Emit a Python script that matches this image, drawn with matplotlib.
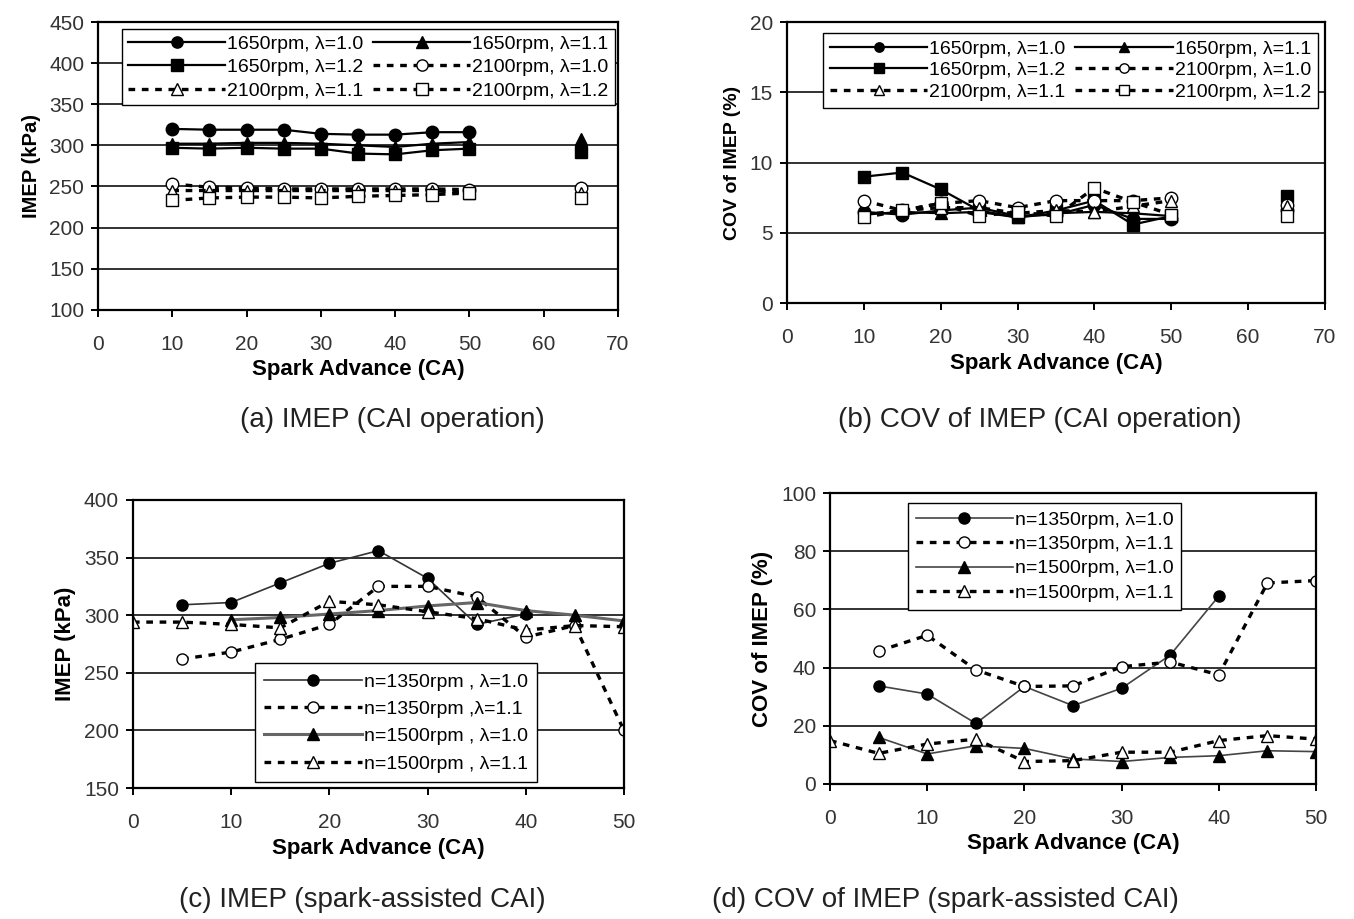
import matplotlib.pyplot as plt
import numpy as np

plt.rcParams['font.family'] = ['Liberation Sans', 'DejaVu Sans']

# ---- data: CAI operation (a), (b) ----
sa_cai = [10, 15, 20, 25, 30, 35, 40, 45, 50, 55, 60, 65]
nan = np.nan

imep_1650_10 = [320, 319, 319, 319, 314, 313, 313, 316, 316, nan, nan, nan]
imep_1650_11 = [302, 302, 303, 303, 302, 300, 298, 302, 304, nan, nan, 308]
imep_1650_12 = [297, 296, 297, 296, 296, 290, 289, 294, 296, nan, nan, 292]
imep_2100_10 = [253, 249, 248, 247, 247, 247, 247, 247, 246, nan, nan, 248]
imep_2100_11 = [245, 245, 245, 245, 245, 245, 245, 245, 242, nan, nan, 242]
imep_2100_12 = [233, 236, 237, 237, 236, 238, 239, 240, 242, nan, nan, 236]

cov_1650_10 = [6.5, 6.3, 6.6, 6.8, 6.2, 6.3, 7.0, 6.0, 6.0, nan, nan, 6.6]
cov_1650_11 = [6.3, 6.5, 6.4, 6.5, 6.1, 6.4, 6.5, 6.4, 6.2, nan, nan, 6.8]
cov_1650_12 = [9.0, 9.3, 8.1, 6.6, 6.1, 6.6, 7.3, 5.6, 6.2, nan, nan, 7.6]
cov_2100_10 = [7.3, 6.6, 7.1, 7.3, 6.8, 7.3, 7.3, 7.3, 7.5, nan, nan, 7.0]
cov_2100_11 = [6.3, 6.6, 6.8, 6.8, 6.4, 6.6, 6.5, 6.9, 7.3, nan, nan, 6.9]
cov_2100_12 = [6.1, 6.6, 7.1, 6.2, 6.5, 6.2, 8.2, 7.2, 6.3, nan, nan, 6.2]

# ---- data: spark-assisted CAI (c), (d) ----
sa_sa = [0, 5, 10, 15, 20, 25, 30, 35, 40, 45, 50]

imep_1350_10 = [nan, 309, 311, 328, 345, 356, 332, 292, 301, nan, nan]
imep_1350_11 = [nan, 262, 268, 279, 292, 325, 325, 316, 281, 291, 200]
imep_1500_10 = [nan, nan, 296, 298, 301, 304, 308, 311, 304, 300, 295]
imep_1500_11 = [294, 294, 292, 289, 312, 309, 303, 297, 287, 291, 290]

cov_1350_10 = [nan, 33.7, 30.9, 20.8, 33.5, 26.9, 32.9, 44.3, 64.6, nan, nan]
cov_1350_11 = [nan, 45.7, 51.1, 39.2, 33.5, 33.7, 40.3, 41.9, 37.5, 69.1, 69.9]
cov_1500_10 = [nan, 16.0, 10.3, 13.1, 12.2, 8.6, 7.7, 9.1, 9.7, 11.4, 11.1]
cov_1500_11 = [14.9, 10.5, 13.7, 15.4, 7.7, 8.0, 10.9, 10.9, 14.9, 16.6, 15.4]

labels_cai = ["1650rpm, λ=1.0", "1650rpm, λ=1.1", "1650rpm, λ=1.2",
              "2100rpm, λ=1.0", "2100rpm, λ=1.1", "2100rpm, λ=1.2"]
labels_c = ["n=1350rpm , λ=1.0", "n=1350rpm ,λ=1.1",
            "n=1500rpm , λ=1.0", "n=1500rpm , λ=1.1"]
labels_d = ["n=1350rpm, λ=1.0", "n=1350rpm, λ=1.1",
            "n=1500rpm, λ=1.0", "n=1500rpm, λ=1.1"]

solid = dict(color='black', linestyle='-', linewidth=1.6)
dotted = dict(color='black', linestyle=(0, (2, 2)), linewidth=2.4)
styles_cai = [
    dict(marker='o', mfc='black', **solid),
    dict(marker='^', mfc='black', **solid),
    dict(marker='s', mfc='black', **solid),
    dict(marker='o', mfc='white', **dotted),
    dict(marker='^', mfc='white', **dotted),
    dict(marker='s', mfc='white', **dotted),
]
styles_c = [
    dict(marker='o', mfc='black', color='#333333', linestyle='-', linewidth=1.2),
    dict(marker='o', mfc='white', **dotted),
    dict(marker='^', mfc='black', color='#666666', linestyle='-', linewidth=2.2),
    dict(marker='^', mfc='white', **dotted),
]
styles_d = [
    dict(marker='o', mfc='black', color='#444444', linestyle='-', linewidth=1.2),
    dict(marker='o', mfc='white', **dotted),
    dict(marker='^', mfc='black', color='#444444', linestyle='-', linewidth=1.2),
    dict(marker='^', mfc='white', **dotted),
]

fig = plt.figure(figsize=(13.54, 9.19), dpi=100)
ax_a = fig.add_axes([0.0724, 0.663, 0.384, 0.313])
ax_b = fig.add_axes([0.5812, 0.670, 0.3974, 0.306])
ax_c = fig.add_axes([0.0982, 0.1425, 0.3626, 0.3135])
ax_d = fig.add_axes([0.613, 0.147, 0.359, 0.3165])


def style_axis(ax, ylab, xlim, ylim, xstep, ystep, ylab_size):
    ax.set_xlim(*xlim)
    ax.set_ylim(*ylim)
    ax.set_xticks(np.arange(xlim[0], xlim[1] + 1, xstep))
    ax.set_yticks(np.arange(ylim[0], ylim[1] + 0.01, ystep))
    ax.yaxis.grid(True, color='#222222', linewidth=1.3)
    ax.set_axisbelow(True)
    for s in ax.spines.values():
        s.set_linewidth(1.6)
    ax.tick_params(direction='out', width=1.4, length=5, labelsize=15,
                   labelcolor='#333333')
    ax.tick_params(axis='x', pad=13)
    ax.tick_params(axis='y', pad=5)
    ax.set_xlabel("Spark Advance (CA)", fontsize=16, fontweight='bold', labelpad=4)
    ax.set_ylabel(ylab, fontsize=ylab_size, fontweight='bold', labelpad=6)


def reorder(h):
    # row-wise legend order for ncol=2
    return [h[0], h[2], h[4], h[1], h[3], h[5]]


leg_common = dict(fancybox=False, edgecolor='black', framealpha=1,
                  handletextpad=0.1, borderaxespad=0, fontsize=14)

# (a)
lines = []
for ys, st, lb in zip([imep_1650_10, imep_1650_11, imep_1650_12,
                       imep_2100_10, imep_2100_11, imep_2100_12], styles_cai, labels_cai):
    lines += ax_a.plot(sa_cai, ys, ms=9, mec='black', label=lb, **st)
style_axis(ax_a, "IMEP (kPa)", (0, 70), (100, 450), 10, 50, 14.5)
ax_a.legend(reorder(lines), reorder(labels_cai), ncol=2, loc='upper center',
            bbox_to_anchor=(0.52, 0.975), handlelength=5.0, columnspacing=0.5,
            borderpad=0.3, labelspacing=0.3, markerscale=0.9, **leg_common)

# (b)
lines = []
for ys, st, lb in zip([cov_1650_10, cov_1650_11, cov_1650_12,
                       cov_2100_10, cov_2100_11, cov_2100_12], styles_cai, labels_cai):
    lines += ax_b.plot(sa_cai, ys, ms=9, mec='black', label=lb, **st)
style_axis(ax_b, "COV of IMEP (%)", (0, 70), (0, 20), 10, 5, 14)
ax_b.legend(reorder(lines), reorder(labels_cai), ncol=2, loc='upper center',
            bbox_to_anchor=(0.527, 0.96), handlelength=5.0, columnspacing=0.5,
            borderpad=0.35, labelspacing=0.2, markerscale=0.75, **leg_common)

# (c)
for ys, st, lb in zip([imep_1350_10, imep_1350_11, imep_1500_10, imep_1500_11],
                      styles_c, labels_c):
    ax_c.plot(sa_sa, np.array(ys, dtype=float), ms=8, mec='black', label=lb, **st)
style_axis(ax_c, "IMEP (kPa)", (0, 50), (150, 400), 10, 50, 16)
ax_c.legend(loc='lower left', bbox_to_anchor=(0.248, 0.02), handlelength=5.0,
            borderpad=0.5, labelspacing=0.5, markerscale=1.0, **leg_common)

# (d)
for ys, st, lb in zip([cov_1350_10, cov_1350_11, cov_1500_10, cov_1500_11],
                      styles_d, labels_d):
    ax_d.plot(sa_sa, np.array(ys, dtype=float), ms=8, mec='black', label=lb, **st)
style_axis(ax_d, "COV of IMEP (%)", (0, 50), (0, 100), 10, 20, 16)
ax_d.legend(loc='upper left', bbox_to_anchor=(0.16, 0.965), handlelength=5.0,
            borderpad=0.4, labelspacing=0.35, markerscale=1.0, **leg_common)

# captions
cap = dict(ha='center', va='center', fontsize=20, color='#222222')
fig.text(392 / 1354, 1 - 420 / 919, "(a) IMEP (CAI operation)", **cap)
fig.text(1040 / 1354, 1 - 420 / 919, "(b) COV of IMEP (CAI operation)", **cap)
fig.text(362 / 1354, 1 - 900 / 919, "(c) IMEP (spark-assisted CAI)", **cap)
fig.text(945 / 1354, 1 - 900 / 919, "(d) COV of IMEP (spark-assisted CAI)", **cap)

fig.savefig("out.png", dpi=100)
